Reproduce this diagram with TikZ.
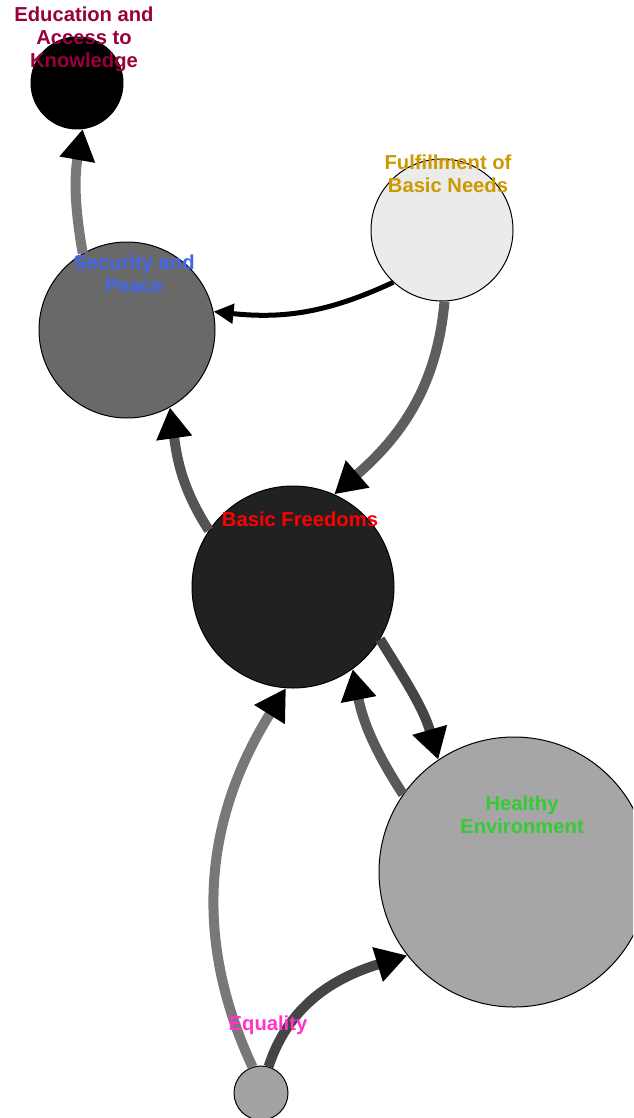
\documentclass[tikz,border=0pt]{standalone}
\usepackage{fontspec}
\setmainfont{Liberation Sans}
\usetikzlibrary{arrows.meta}

\definecolor{cEdu}{HTML}{99003D}
\definecolor{cFul}{HTML}{CC9900}
\definecolor{cSec}{HTML}{4466EE}
\definecolor{cBF}{HTML}{FF0000}
\definecolor{cHe}{HTML}{33CC33}
\definecolor{cEq}{HTML}{FF33CC}

\tikzset{
  topic/.style={circle, draw=black, line width=1pt, inner sep=0pt},
  lbl/.style={font=\fontsize{20.2}{23}\selectfont\bfseries, align=center, inner sep=0pt},
  thick link/.style={line width=10pt, -{Triangle[length=31pt,width=34pt,color=black]}},
  thin link/.style={line width=5pt, -{Triangle[length=20pt,width=19pt,color=black]}},
}

\begin{document}
\begin{tikzpicture}[x=1pt, y=-1pt]
  \clip (0,0) rectangle (633,1118);
  \fill[white] (0,0) rectangle (633,1118);

  % topics
  \node[topic, fill=black,          minimum size=92pt]  (edu) at (77,83)   {};
  \node[topic, fill=black!8,        minimum size=142pt] (ful) at (442,230) {};
  \node[topic, fill=black!59,       minimum size=176pt] (sec) at (127,330) {};
  \node[topic, fill=black!87,       minimum size=202pt] (bf)  at (293,587) {};
  \node[topic, fill=black!35,       minimum size=270pt] (he)  at (514,872) {};
  \node[topic, fill=black!36,       minimum size=54pt]  (eq)  at (261,1093) {};

  % influences between topics
  \draw[thick link, draw=black!53] (sec.120) to[out=100, in=-100] (edu.-83);
  \draw[thin link,  draw=black]    (ful.227) to[out=205, in=-6]   (sec.12);
  \draw[thick link, draw=black!63] (ful.-88) to[out=-95, in=41]   (bf.66);
  \draw[thick link, draw=black!67] (bf.146)  to[out=123, in=-82]  (sec.-61);
  \draw[thick link, draw=black!73] (bf.-31)  to[out=-58, in=106]  (he.124);
  \draw[thick link, draw=black!65] (he.145)  to[out=123, in=-79]  (bf.-54);
  \draw[thick link, draw=black!53] (eq.108)  to[out=115, in=238]  (bf.-94);
  \draw[thick link, draw=black!73] (eq.74)   to[out=72,  in=197]  (he.218);

  % labels
  \node[lbl, text=cEdu] (eduL) at (84,39)    {Education and\\Access to\\Knowledge};
  \node[lbl, text=cFul] (fulL) at (448,173.5) {Fulfillment of\\Basic Needs};
  \node[lbl, text=cSec] (secL) at (134,273.5) {Security and\\Peace};
  \node[lbl, text=cBF]  (bfL)  at (300,519)  {Basic Freedoms};
  \node[lbl, text=cHe]  (heL)  at (522,814.5) {Healthy\\Environment};
  \node[lbl, text=cEq]  (eqL)  at (268,1025) {Equality};
\end{tikzpicture}
\end{document}
